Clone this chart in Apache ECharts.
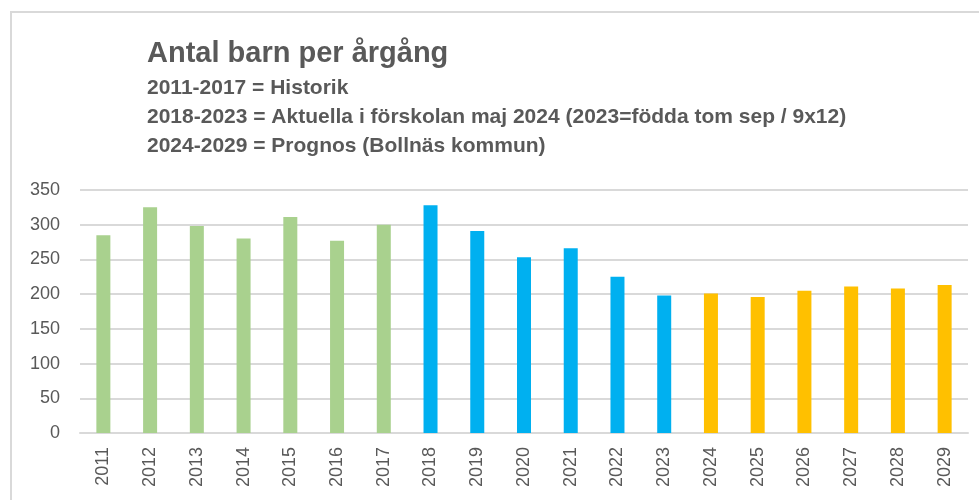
<!DOCTYPE html>
<html>
<head>
<meta charset="utf-8">
<script src="https://cdn.jsdelivr.net/npm/echarts@6/dist/echarts.min.js"></script>
<style>
html,body{margin:0;padding:0;background:#fff;}
#chart{width:979px;height:500px;}
</style>
</head>
<body>
<div id="chart"></div>
<script>
const years = ['2011','2012','2013','2014','2015','2016','2017','2018','2019','2020','2021','2022','2023','2024','2025','2026','2027','2028','2029'];
const values = [285,325,298,280,311,277,300,328,291,253,266,225,198,201,196,205,211,208,213];
const groups = ['hist','hist','hist','hist','hist','hist','hist','akt','akt','akt','akt','akt','akt','prog','prog','prog','prog','prog','prog'];
const groupColors = {hist:'#A9D18E', akt:'#00B0F0', prog:'#FFC000'};
const titleText = 'Antal barn per årgång';
const subtitleLines = [
  '2011-2017 = Historik',
  '2018-2023 = Aktuella i förskolan maj 2024 (2023=födda tom sep / 9x12)',
  '2024-2029 = Prognos (Bollnäs kommun)'
];
const yTicks = {min:0, max:350, interval:50};

const chart = echarts.init(document.getElementById('chart'), null, {renderer:'canvas'});
const textColor = '#595959';
const font = '"Liberation Sans", Arial, sans-serif';

chart.setOption({
  animation:false,
  backgroundColor:'#fff',
  graphic:[
    {type:'rect', shape:{x:11,y:12,width:1100,height:600}, style:{fill:'none', stroke:'#D9D9D9', lineWidth:2}, silent:true},
    {type:'text', left:147, top:39, style:{text:titleText, fill:textColor, font:'bold 29px ' + font}},
    {type:'text', left:147, top:78, style:{text:subtitleLines[0], fill:textColor, font:'bold 21px ' + font}},
    {type:'text', left:147, top:107, style:{text:subtitleLines[1], fill:textColor, font:'bold 21px ' + font}},
    {type:'text', left:147, top:136, style:{text:subtitleLines[2], fill:textColor, font:'bold 21px ' + font}}
  ],
  grid:{left:80, right:11, top:190, bottom:67, containLabel:false},
  xAxis:{
    type:'category',
    data:years,
    axisLine:{show:true, lineStyle:{color:'#D9D9D9', width:2}},
    axisTick:{show:false},
    axisLabel:{rotate:90, color:textColor, fontSize:18, fontFamily:font, margin:14}
  },
  yAxis:{
    type:'value',
    min:yTicks.min, max:yTicks.max, interval:yTicks.interval,
    axisLine:{show:false},
    axisTick:{show:false},
    splitLine:{lineStyle:{color:'#D9D9D9', width:2}},
    axisLabel:{color:textColor, fontSize:18, fontFamily:font, margin:20}
  },
  series:[{
    type:'bar',
    barWidth:14,
    data:values.map((v,i)=>({value:v, itemStyle:{color:groupColors[groups[i]]}}))
  }]
});
</script>
</body>
</html>
